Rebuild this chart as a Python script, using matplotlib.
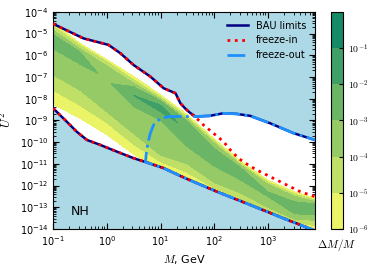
import numpy as np
import matplotlib
matplotlib.use('Agg')
import matplotlib.pyplot as plt
from matplotlib.ticker import LogLocator, NullFormatter

plt.rcParams['mathtext.fontset'] = 'cm'
plt.rcParams['font.size'] = 7
plt.rcParams['xtick.direction'] = 'in'
plt.rcParams['ytick.direction'] = 'in'
plt.rcParams['xtick.top'] = True
plt.rcParams['ytick.right'] = True

# dM/M scan: for each mass column (log10 M/GeV) a profile in log10 U^2
# with the log10(dM/M) value read at each point (-8 = no solution)
m_cols = [-1.0, -0.5, 0.0, 0.5, 1.0, 1.5, 2.0, 2.5, 3.0, 3.5, 3.9]
prof_u2 = [
    [-4.40, -4.50, -4.65, -4.85, -5.05, -5.35, -5.70, -6.90, -7.60, -8.25, -8.44],
    [-5.14, -5.45, -5.55, -5.70, -5.85, -6.10, -6.40, -7.60, -8.30, -8.90, -9.60],
    [-5.50, -6.20, -6.30, -6.50, -6.80, -7.20, -7.60, -8.60, -9.10, -9.65, -10.10],
    [-6.45, -6.98, -7.13, -7.29, -7.45, -7.85, -8.36, -9.60, -10.10, -10.55, -10.74],
    [-7.36, -7.82, -7.93, -8.02, -8.10, -8.40, -8.98, -10.60, -10.90, -11.30, -11.50],
    [-8.55, -8.75, -8.85, -8.95, -9.05, -9.50, -10.20, -11.00, -11.40, -11.80, -12.00],
    [-9.60, -9.85, -9.95, -10.05, -10.30, -10.70, -11.10, -11.85, -12.10, -12.35, -12.60],
    [-10.75, -10.90, -11.00, -11.08, -11.20, -11.45, -11.75, -12.35, -12.60, -12.85, -13.10],
    [-11.55, -11.75, -11.85, -11.95, -12.30, -12.40, -12.50, -13.00, -13.20, -13.40, -13.60],
    [-12.15, -12.30, -12.40, -12.50, -12.75, -13.00, -13.30, -13.55, -13.70, -13.85, -14.10],
    [-12.45, -12.60, -12.68, -12.76, -12.85, -13.10, -13.35, -13.60, -13.85, -14.10, -14.40],
]
prof_dm = [
    [-8, -6, -5, -4, -3, -2.7, -3, -4, -5, -6, -8],
    [-8, -6, -5, -4, -3, -2.6, -3, -4, -5, -6, -8],
    [-8, -6, -5, -4, -3.5, -3.2, -3.5, -4, -5, -6, -8],
    [-8, -6, -5, -4, -3, -2.0, -3, -4, -5, -6, -8],
    [-8, -6, -5, -4, -3, -1.5, -3, -4, -5, -6, -8],
    [-8, -6, -5, -4, -3, -2.3, -3, -4, -5, -6, -8],
    [-8, -6, -5, -4, -3, -2.5, -3, -4, -5, -6, -8],
    [-8, -6, -5, -4, -3, -2.5, -3, -4, -5, -6, -8],
    [-8, -6, -5, -4, -3, -2.9, -3, -4, -5, -6, -8],
    [-8, -6, -5, -4, -3, -2.9, -3, -4, -5, -6, -8],
    [-8, -6, -5, -4, -3, -2.5, -3, -4, -5, -6, -8],
]
dm_levels = [-6, -5, -4, -3, -2, -1, 0]
dm_colors = ['#eaf466', '#bfdf66', '#95ca66', '#6ab566', '#409f66', '#158a66']
cb_ticks = [-6, -5, -4, -3, -2, -1]
cb_labels = ['$10^{-6}$', '$10^{-5}$', '$10^{-4}$', '$10^{-3}$', '$10^{-2}$', '$10^{-1}$']

# BAU limits (log10 values)
bau_up_m = [-1.0, -0.435, 0.03, 0.25, 0.50, 0.81, 1.06, 1.28, 1.37, 1.46, 1.55, 1.65,
            1.92, 2.17, 2.42, 2.67, 3.04, 3.48, 3.9]
bau_up_u2 = [-4.55, -5.22, -5.52, -5.90, -6.45, -6.98, -7.52, -7.75, -8.21, -8.45, -8.65, -8.82,
             -8.79, -8.67, -8.70, -8.79, -9.13, -9.59, -9.92]
bau_lo_m = [-1.0, -0.745, -0.56, -0.37, -0.12, 0.19, 0.50, 0.75, 1.06, 1.46, 2.05, 2.67, 3.29, 3.9]
bau_lo_u2 = [-8.44, -9.06, -9.52, -9.90, -10.13, -10.44, -10.74, -10.94, -11.20, -11.66, -12.28,
             -12.89, -13.51, -14.1]

# freeze-in
fi_m = [-1.0, -0.435, 0.03, 0.25, 0.50, 0.81, 1.06, 1.28, 1.37, 1.46, 1.55, 1.705, 1.80, 1.985,
        2.17, 2.30, 2.45, 2.58, 2.79, 3.04, 3.29, 3.60, 3.9]
fi_u2 = [-4.55, -5.22, -5.52, -5.90, -6.45, -6.98, -7.52, -7.75, -8.21, -8.45, -8.65, -8.98, -9.21,
         -9.59, -9.97, -10.36, -10.74, -10.97, -11.28, -11.59, -11.90, -12.28, -12.53]

# freeze-out
fo_m = [3.9, 3.29, 2.67, 2.05, 1.46, 1.06, 0.72, 0.74, 0.77, 0.81, 0.87, 1.0, 1.18, 1.46, 1.65,
        1.92, 2.17, 2.42, 2.67, 3.04, 3.48, 3.9]
fo_u2 = [-14.1, -13.51, -12.89, -12.28, -11.66, -11.20, -10.92, -10.4, -10.0, -9.59, -9.21, -8.90,
         -8.82, -8.82, -8.82, -8.79, -8.67, -8.70, -8.79, -9.13, -9.59, -9.92]


def p10(v):
    return 10.0 ** np.asarray(v, dtype=float)


fig = plt.figure(figsize=(3.74, 2.70), dpi=100)
ax = fig.add_axes([0.142, 0.152, 0.700, 0.804])
cax = fig.add_axes([0.885, 0.152, 0.032, 0.804])
ax.set_facecolor('lightblue')
ax.set_xscale('log')
ax.set_yscale('log')
ax.set_xlim(0.1, 7.5e3)
ax.set_ylim(1e-14, 1e-4)

# allowed region
poly_m = np.concatenate([p10(bau_up_m), p10(bau_lo_m)[::-1]])
poly_u2 = np.concatenate([p10(bau_up_u2), p10(bau_lo_u2)[::-1]])
region = ax.fill(poly_m, poly_u2, color='white', zorder=1)[0]

# contours are computed on the log10 values, then passed through the log scale
log_to_display = ax.transScale.inverted() + ax.transData
n_pts = len(prof_u2[0])
X = np.tile(np.array(m_cols), (n_pts, 1))
Y = np.array(prof_u2).T
Z = np.array(prof_dm, dtype=float).T
cs = ax.contourf(X, Y, Z, levels=dm_levels, colors=dm_colors, zorder=2,
                 transform=log_to_display)
cs.set_clip_path(region)

ax.plot(p10(bau_up_m), p10(bau_up_u2), color='navy', lw=1.8, zorder=3, label='BAU limits')
ax.plot(p10(bau_lo_m), p10(bau_lo_u2), color='navy', lw=1.8, zorder=3)
ax.plot(p10(fi_m), p10(fi_u2), color='red', ls=':', lw=2, zorder=4, label='freeze-in')
ax.plot(p10(bau_lo_m), p10(bau_lo_u2), color='red', ls=':', lw=2, zorder=4)
ax.plot(p10(fo_m), p10(fo_u2), color='dodgerblue', ls='-.', lw=2, zorder=5, label='freeze-out')

ax.text(0.21, 10 ** -13.35, 'NH', fontsize=9, va='baseline', zorder=6)

ax.set_xlim(0.1, 7.5e3)
ax.set_ylim(1e-14, 1e-4)
ax.yaxis.set_major_locator(LogLocator(base=10, numticks=20))
ax.yaxis.set_minor_locator(LogLocator(base=10, subs=np.arange(2, 10), numticks=20))
ax.yaxis.set_minor_formatter(NullFormatter())
ax.tick_params(which='major', length=4, labelsize=7)
ax.tick_params(which='minor', length=2)
ax.set_xlabel('$M$, GeV', fontsize=8, labelpad=4)
ax.set_ylabel('$U^2$', fontsize=9)
ax.legend(loc='upper right', frameon=False, fontsize=7, handlelength=2.2)

cbar = fig.colorbar(cs, cax=cax)
cbar.set_ticks(cb_ticks)
cbar.set_ticklabels(cb_labels)
cbar.ax.tick_params(labelsize=7, length=3)
cbar.ax.set_xlabel(r'$\Delta M/M$', fontsize=8, labelpad=6)

fig.savefig('out.png', dpi=100)
